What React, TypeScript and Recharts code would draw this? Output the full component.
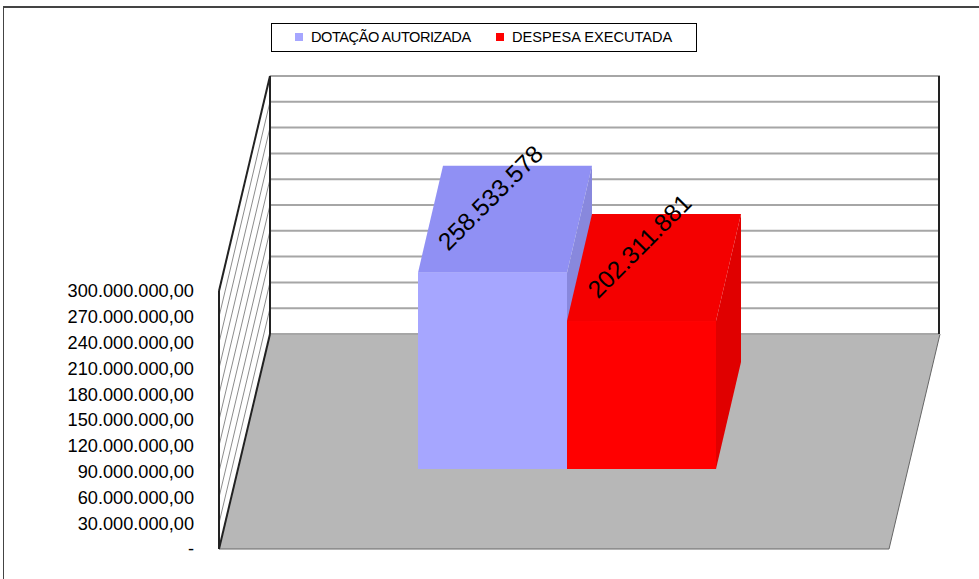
import { BarChart, Bar, XAxis, YAxis, CartesianGrid, Legend, LabelList } from 'recharts'

const categories = ['2012']
const seriesNames = ['DOTAÇÃO AUTORIZADA', 'DESPESA EXECUTADA']
const dotacao = [258533578]
const despesa = [202311881]
const yTicks = [0, 30000000, 60000000, 90000000, 120000000, 150000000, 180000000, 210000000, 240000000, 270000000, 300000000]

const data = categories.map((c, i) => ({ name: c, dotacao: dotacao[i], despesa: despesa[i] }))

const FONT = '"Liberation Sans", Arial, sans-serif'

// oblique projection of the old 3D chart: depth of the whole floor and depth of a bar
const WALL_DX = 51
const WALL_DY = 215
const BAR_DX = 25
const BAR_DY = 107
// bars stand inside the floor: front face is pushed back from the front plane
const FRONT_DX = 13
const FRONT_DY = 54
const BASE_DY = 80

const formatTick = (v: number) => {
  if (v === 0) return '-'
  return v.toString().replace(/\B(?=(\d{3})+$)/g, '.') + ',00'
}

const poly = (pts: number[][]) => pts.map((p) => p.join(',')).join(' ')

function GridLine(props: any) {
  const { x1, x2, y1, y, height } = props
  const bx = x1 + WALL_DX
  const by = y1 - WALL_DY
  const isFloor = Math.abs(y1 - (y + height)) < 1
  const isTop = Math.abs(y1 - y) < 1
  return (
    <g>
      {isFloor && (
        <>
          <polygon
            points={poly([[x1, y1], [x2, y1], [x2 + WALL_DX, by], [bx, by]])}
            fill="#b7b7b7"
          />
          <line x1={x1} y1={y1} x2={x2} y2={y1} stroke="#666" strokeWidth={1} />
          <line x1={x2} y1={y1} x2={x2 + WALL_DX} y2={by} stroke="#666" strokeWidth={1} />
        </>
      )}
      {!isFloor && (
        <line x1={x1} y1={y1} x2={bx} y2={by} stroke={isTop ? '#222' : '#8c8c8c'} strokeWidth={isTop ? 2 : 1} />
      )}
      <line x1={bx} y1={by} x2={x2 + WALL_DX} y2={by} stroke="#a6a6a6" strokeWidth={2} />
      {isFloor && <line x1={x1} y1={y1} x2={bx} y2={by} stroke="#222" strokeWidth={2} />}
      {isTop && (
        <>
          <line x1={x1} y1={y1} x2={x1} y2={y1 + height} stroke="#222" strokeWidth={2} />
          <line x1={bx} y1={by} x2={bx} y2={by + height} stroke="#222" strokeWidth={2} />
          <line x1={x2 + WALL_DX - 1} y1={by} x2={x2 + WALL_DX - 1} y2={by + height} stroke="#222" strokeWidth={2} />
        </>
      )}
    </g>
  )
}

function Bar3D(props: any) {
  const { x, y, width, height, colors } = props
  const left = x + FRONT_DX
  const right = left + width
  const top = y - FRONT_DY
  const bottom = y + height - BASE_DY
  return (
    <g>
      <polygon
        points={poly([[left, top], [right, top], [right + BAR_DX, top - BAR_DY], [left + BAR_DX, top - BAR_DY]])}
        fill={colors[1]}
      />
      <polygon
        points={poly([[right, top], [right + BAR_DX, top - BAR_DY], [right + BAR_DX, bottom - BAR_DY], [right, bottom]])}
        fill={colors[2]}
      />
      <rect x={left} y={top} width={width} height={bottom - top} fill={colors[0]} />
    </g>
  )
}

function BarValue(props: any) {
  const { x, y, width, value } = props
  const cx = x + FRONT_DX + width / 2 - 2
  const cy = y - FRONT_DY - 75
  return (
    <text
      x={cx}
      y={cy}
      fontFamily={FONT}
      fontSize={24.5}
      fill="#000"
      textAnchor="middle"
      dominantBaseline="central"
      transform={`rotate(-45 ${cx} ${cy})`}
    >
      {value.toString().replace(/\B(?=(\d{3})+$)/g, '.')}
    </text>
  )
}

function LegendBox() {
  const swatches = ['#a6a6ff', '#ff0000']
  return (
    <div
      style={{
        boxSizing: 'border-box',
        width: 426,
        height: 29,
        border: '1px solid #000',
        background: '#fff',
        fontFamily: FONT,
        fontSize: 14.6,
        color: '#000',
        position: 'relative',
      }}
    >
      {seriesNames.map((n, i) => (
        <div key={n} style={{ position: 'absolute', left: i === 0 ? 23 : 224, top: 0, height: 25, display: 'flex', alignItems: 'center', whiteSpace: 'nowrap' }}>
          <span style={{ width: 8, height: 8, background: swatches[i], marginRight: 8, marginTop: 1, display: 'inline-block' }} />
          <span style={{ letterSpacing: i === 0 ? -0.47 : 0 }}>{n}</span>
        </div>
      ))}
    </div>
  )
}

export default function App() {
  return (
    <div style={{ position: 'absolute', left: 0, top: 0, width: 979, height: 579, background: '#fff', overflow: 'hidden' }}>
      <div style={{ position: 'absolute', left: 3, top: 6, width: 1000, height: 600, borderLeft: '1px solid #444', borderTop: '2px solid #444' }} />
      <BarChart
        width={979}
        height={579}
        data={data}
        margin={{ top: 262, right: 90, bottom: 30, left: 0 }}
        barSize={149}
        barGap={0}
        style={{ position: 'absolute', left: 0, top: 0 }}
      >
        <CartesianGrid vertical={false} horizontal={(p: any) => <GridLine key={p.key ?? p.index} {...p} />} />
        <XAxis dataKey="name" hide />
        <YAxis
          width={219}
          domain={[0, 300000000]}
          ticks={yTicks}
          interval={0}
          tickFormatter={formatTick}
          axisLine={false}
          tickLine={false}
          tickSize={0}
          tickMargin={25}
          tick={{ fontFamily: FONT, fontSize: 18.2, fill: '#000' }}
        />
        <Legend
          verticalAlign="top"
          content={<LegendBox />}
          wrapperStyle={{ left: 271, top: 23, width: 426, height: 29 }}
        />
        <Bar dataKey="dotacao" name={seriesNames[0]} fill="#a6a6ff" isAnimationActive={false} shape={(p: any) => <Bar3D {...p} colors={['#a6a6ff', '#9090f4', '#8888dd']} />}>
          <LabelList dataKey="dotacao" content={<BarValue />} />
        </Bar>
        <Bar dataKey="despesa" name={seriesNames[1]} fill="#ff0000" isAnimationActive={false} shape={(p: any) => <Bar3D {...p} colors={['#ff0000', '#f40000', '#e00000']} />}>
          <LabelList dataKey="despesa" content={<BarValue />} />
        </Bar>
      </BarChart>
    </div>
  )
}
